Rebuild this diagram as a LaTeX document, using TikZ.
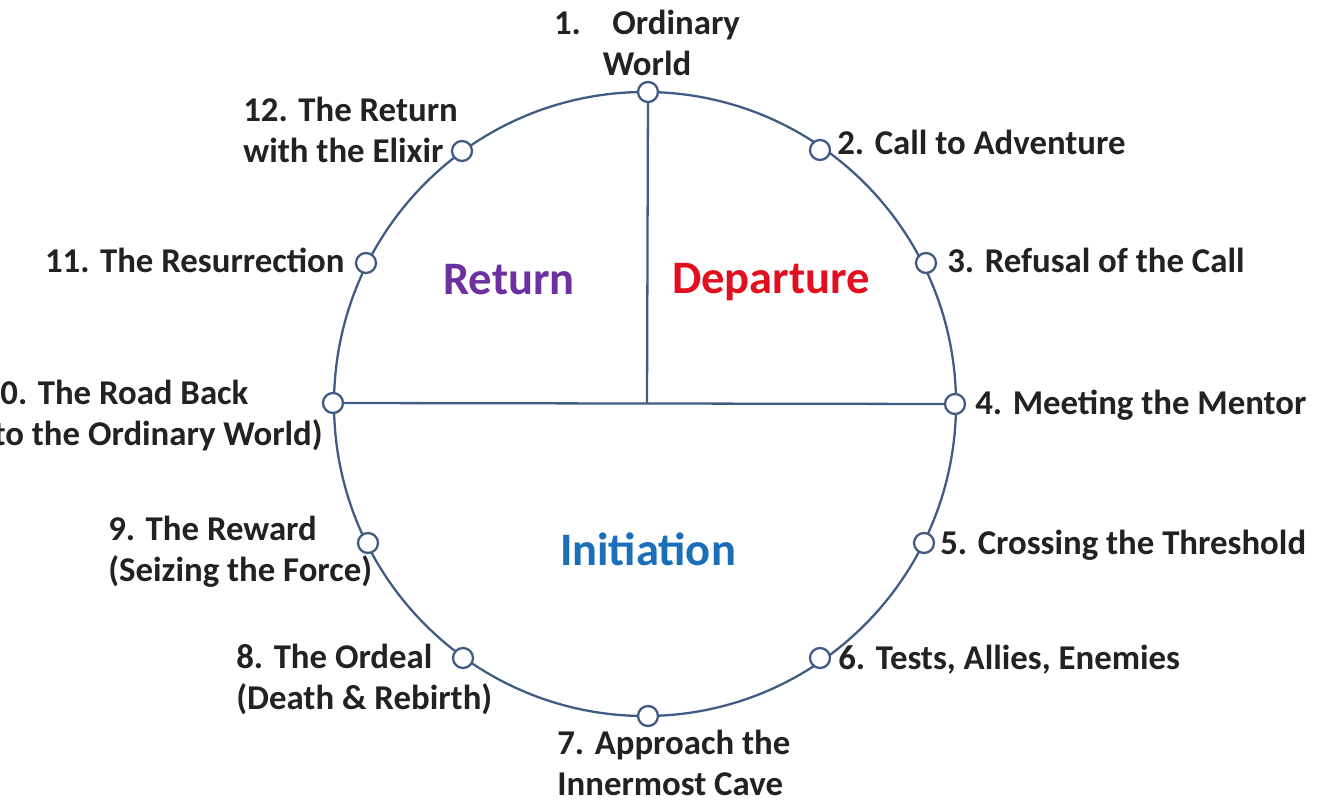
\documentclass[tikz,border=0pt]{standalone}
\usepackage{fontspec}
\setmainfont{Carlito}
\usetikzlibrary{positioning}

\definecolor{linea}{RGB}{64,92,132}
\definecolor{testo}{RGB}{34,34,34}
\definecolor{viola}{RGB}{108,48,160}
\definecolor{rosso}{RGB}{226,16,30}
\definecolor{blu}{RGB}{26,111,184}

\begin{document}
\begin{tikzpicture}[x=0.02cm,y=-0.02cm]

% definizione delle tappe sul cerchio
\tikzset{tappa/.style={circle,draw=linea,fill=white,line width=1.3pt,minimum size=0.4cm,inner sep=0pt}}
% definizione delle etichette
\tikzset{etichetta/.style={font=\fontsize{19.8}{23.3}\selectfont\bfseries,text=testo,inner sep=0pt,align=left}}
% definizione dei nomi delle fasi
\tikzset{fase/.style={font=\fontsize{26.5}{30}\selectfont\bfseries,text=#1,inner sep=0pt}}

\useasboundingbox (0,0) rectangle (1319,800);
\clip (0,0) rectangle (1319,800);
\fill[white] (0,0) rectangle (1319,800);

%Traccia il cerchio
\draw[linea,line width=1.3pt] (645,404) ellipse [x radius=311, y radius=312];

% Disegna le tappe
\foreach \n/\x/\y in {1/648/92,2/820/150,3/926/263,4/955/404,5/924/543,6/820/658,
                      7/648/716,8/463/658,9/368/543,10/333/403,11/366/263,12/462/151}
\node[tappa] (s\n) at (\x,\y) {};

\coordinate (centro) at (647,404);

%Disegna linee
\draw[linea,line width=1.3pt] (s1) -- (centro);
\draw[linea,line width=1.3pt] (s10) -- (s4);

%Metti le etichette delle tappe
\node[etichetta,align=center,anchor=north] (l1) at (647,10) {1.\ \ \ \ Ordinary\\World};
\node[etichetta,anchor=base west] (l2) at (837,155) {2. Call to Adventure};
\node[etichetta,anchor=base west] (l3) at (947,273) {3. Refusal of the Call};
\node[etichetta,anchor=base west] (l4) at (975,415) {4. Meeting the Mentor};
\node[etichetta,anchor=base west] (l5) at (940,554) {5. Crossing the Threshold};
\node[etichetta,anchor=base west] (l6) at (838,669) {6. Tests, Allies, Enemies};
\node[etichetta,anchor=north west] (l7) at (557,730) {7. Approach the\\Innermost Cave};
\node[etichetta,anchor=north west] (l8) at (236,644) {8. The Ordeal\\(Death \& Rebirth)};
\node[etichetta,anchor=north west] (l9) at (108,516) {9. The Reward\\(Seizing the Force)};
\node[etichetta,anchor=north east] (l10) at (323,380) {10. The Road Back\\(to the Ordinary World)};
\node[etichetta,anchor=base east] (l11) at (345,273) {11. The Resurrection};
\node[etichetta,anchor=north west] (l12) at (243,97) {12. The Return\\with the Elixir};

%Nomi delle fasi
\node[fase=viola] (ritorno) at (509,280) {Return};
\node[fase=rosso] (partenza) at (771,282) {Departure};
\node[fase=blu] (iniziazione) at (648,549) {Initiation};

\end{tikzpicture}
\end{document}
